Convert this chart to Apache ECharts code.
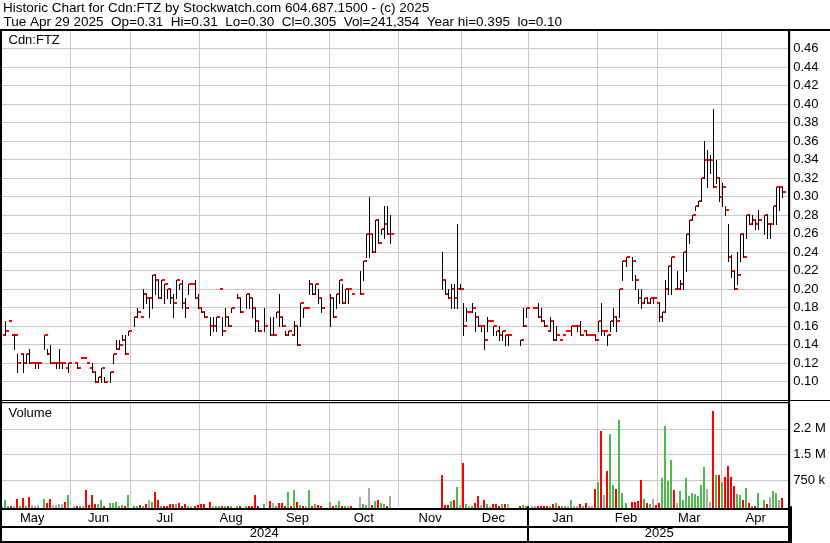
<!DOCTYPE html>
<html><head><meta charset="utf-8">
<script src="https://cdn.jsdelivr.net/npm/echarts@6/dist/echarts.min.js"></script>
<style>html,body{margin:0;padding:0;background:#fff}#c{width:830px;height:543px}</style>
</head><body><div id="c"></div>
<script>
// ---- DATA (one slot per weekday, 2024-05-01 .. 2025-04-29; null = no trade) ----
const high = [
 .15,.165,.165,.15,.15,.13,.13,.13,.13,.135,.12,.12,.12,null,.15,.135,.14,.12,.12,.135,.12,.115,.12, // May
 null,.12,.12,.125,.125,.12,.115,.12,.11,.105,.115,.105,null,.11,.13,.145,.145,.15,.15,.155, // Jun
 null,.17,.18,.17,.20,.195,.19,.215,.215,.21,.21,.205,.20,.20,.195,.21,.205,.21,.19,.205,.205,.21,.195, // Jul
 .18,.175,null,.17,.17,.17,.20,.17,.18,.17,.18,null,.195,.19,null,.195,.195,.19,.18,.165,null,.18, // Aug
 null,.17,.17,.175,.195,.17,.155,.155,.15,.165,.16,.185,.18,.18,.21,.205,.205,.20,.19,null,null, // Sep
 .195,.19,.195,.21,.205,.20,.20,.195,null,null,.22,.23,.26,.30,.26,.275,.275,.265,.29,.29,.28,null,null, // Oct
 null,null,null,null,null,null,null,null,null,null,null,null,null,null,.24,.21,.20,.205,.205,.27,.205, // Nov
 .185,.18,.175,.185,.175,.17,.16,.16,.17,.165,.16,.155,.16,.155,.15,.15,null,null,null,.145,.18,.18, // Dec
 null,.18,.18,.185,.18,.165,.155,.17,.165,.16,.145,.15,.155,.155,.16,.16,.16,.165,.155,.155,.15,.15,.15, // Jan
 .165,.185,.155,.15,.165,.18,.17,.20,.23,.235,null,.235,.215,.20,.20,.19,.19,.19,.19,.185, // Feb
 .185,.175,.21,.225,.235,.20,.22,.21,.24,.26,.275,.28,.29,.295,.32,.36,.35,.345,.395,.34,.32, // Mar
 .315,.29,.27,.237,.22,.24,.26,.26,.28,.28,.28,.275,.285,null,.28,.28,.27,.29,.31,.31,.31 // Apr
];
const low = [
 .15,.15,.165,.15,.135,.11,.13,.11,.12,.12,.12,.115,.115,null,.135,.13,.12,.12,.115,.115,.115,.115,.11,
 null,.12,.115,.125,.125,.12,.115,.11,.10,.10,.10,.10,null,.10,.12,.135,.135,.145,.13,.15,
 null,.16,.17,.17,.18,.185,.17,.18,.195,.19,.19,.185,.19,.185,.17,.19,.20,.18,.17,.195,.205,.19,.18,
 .175,.17,null,.15,.155,.155,.20,.15,.16,.16,.175,null,.19,.175,null,.18,.18,.17,.155,.155,null,.155,
 null,.15,.15,.17,.16,.16,.15,.15,.15,.15,.14,.16,.17,.18,.195,.195,.195,.185,.175,null,null,
 .16,.17,.18,.185,.185,.185,.185,.195,null,null,.195,.21,.235,.235,.24,.24,.25,.26,.255,.26,.25,null,null,
 null,null,null,null,null,null,null,null,null,null,null,null,null,null,.20,.195,.19,.18,.18,.18,.20,
 .15,.165,.175,.175,.155,.16,.155,.135,.155,.165,.15,.15,.145,.145,.14,.14,null,null,null,.14,.16,.17,
 null,.18,.18,.17,.165,.16,.155,.155,.145,.145,.145,.15,.155,.155,.15,.16,.155,.15,.155,.15,.15,.15,.145,
 .155,.15,.15,.14,.155,.16,.155,.17,.21,.225,null,.21,.20,.185,.18,.185,.185,.185,.185,.185,
 .165,.165,.175,.195,.195,.20,.20,.20,.20,.22,.25,.275,.285,.29,.295,.32,.31,.325,.31,.315,.295,
 .29,.28,.23,.213,.20,.205,.23,.235,.255,.27,.27,.265,.265,null,.26,.255,.255,.27,.27,.285,.30
];
const close = [
 .15,.155,.165,.15,.15,.12,.13,.12,.13,.12,.12,.12,.12,null,.15,.13,.12,.12,.12,.12,.12,.115,.12,
 null,.12,.115,.125,.125,.12,.115,.11,.10,.105,.115,.10,null,.11,.13,.135,.14,.145,.13,.155,
 null,.17,.175,.17,.195,.19,.19,.215,.21,.19,.21,.205,.20,.19,.185,.21,.205,.185,.18,.205,.205,.19,.18,
 .175,.17,null,.16,.16,.17,.20,.155,.17,.16,.18,null,.19,.175,null,.195,.19,.18,.165,.155,null,.16,
 null,.15,.15,.175,.17,.16,.15,.155,.15,.16,.14,.185,.18,.18,.205,.195,.205,.19,.18,null,null,
 .19,.17,.195,.21,.185,.20,.20,.195,null,null,.195,.23,.26,.26,.24,.275,.25,.265,.27,.26,.26,null,null,
 null,null,null,null,null,null,null,null,null,null,null,null,null,null,.21,.195,.19,.20,.19,.20,.20,
 .16,.175,.175,.18,.17,.16,.16,.145,.165,.165,.16,.155,.15,.155,.15,.15,null,null,null,.145,.16,.18,
 null,.18,.18,.17,.165,.16,.155,.165,.145,.15,.145,.15,.155,.155,.16,.16,.16,.15,.155,.15,.15,.15,.145,
 .165,.155,.155,.15,.165,.17,.165,.20,.23,.235,null,.23,.21,.19,.185,.19,.185,.19,.19,.185,
 .17,.175,.20,.225,.235,.20,.20,.205,.24,.26,.275,.28,.29,.295,.32,.34,.34,.34,.31,.32,.30,
 .31,.285,.235,.22,.20,.215,.26,.235,.28,.27,.275,.27,.275,null,.28,.27,.27,.29,.31,.31,.305
];
// volume in thousands of shares
const volumeK = [
 10,183,0,0,0,221,0,250,0,279,38,10,38,null,212,106,212,38,38,67,67,115,327,
 null,20,20,10,20,471,30,327,67,67,183,5,null,96,96,125,5,38,5,327,
 null,10,10,38,20,67,183,125,413,183,10,5,5,67,67,67,96,5,67,5,5,5,38,
 67,67,null,125,5,5,5,10,10,5,5,null,5,5,null,10,5,5,327,5,null,67,
 null,154,96,5,96,96,5,413,10,471,125,38,10,0,471,10,67,38,10,null,null,
 125,5,38,154,5,10,5,5,null,null,269,67,48,529,38,154,183,96,67,10,298,null,null,
 null,null,null,null,null,null,null,null,null,null,null,null,null,null,904,38,38,154,183,558,38,
 1250,67,5,10,96,298,38,183,67,5,67,67,10,67,67,67,null,null,null,10,38,5,
 null,5,5,5,5,5,5,10,67,96,5,10,5,5,183,5,10,67,5,96,5,5,500,
 702,2200,327,1020,2090,615,500,2520,385,100,null,125,125,154,760,212,96,67,212,38,
 100,817,2320,731,1340,471,96,442,183,817,298,385,356,300,615,1130,500,125,2760,904,904,
 702,846,1160,846,587,356,327,183,519,96,10,19,385,null,183,67,269,442,385,183,241.354
];
const priceTicks = { min: 0.08, max: 0.48, step: 0.02 };
const volTickLabels = { 750: '750 k', 1500: '1.5 M', 2250: '2.2 M' };
const monthLabelIdx = [10, 32, 54, 76, 98, 120, 142, 163, 186, 207, 228, 250];
const yearLabelIdx = [87, 218];
const monthNames = ['Jan','Feb','Mar','Apr','May','Jun','Jul','Aug','Sep','Oct','Nov','Dec'];

// weekday calendar
const days = [];
for (let t = Date.UTC(2024, 4, 1); t <= Date.UTC(2025, 3, 29); t += 86400000) {
  const d = new Date(t), wd = d.getUTCDay();
  if (wd !== 0 && wd !== 6) days.push(d.toISOString().slice(0, 10));
}
const cats = days.concat(['', '']);
const monthStarts = new Set();
for (let i = 1; i < days.length; i++) if (days[i].slice(0, 7) !== days[i - 1].slice(0, 7)) monthStarts.add(i);
let yearStart = days.findIndex(d => d.startsWith('2025'));
const monthLabelSet = new Set(monthLabelIdx), yearLabelSet = new Set(yearLabelIdx);

const ohlc = [], vol = [];
let prev = null;
for (let i = 0; i < days.length; i++) {
  if (close[i] != null) ohlc.push([i, high[i], low[i], close[i]]);
  if (volumeK[i] != null) {
    let dir = 0;
    if (close[i] != null && prev != null) dir = close[i] > prev ? 1 : (close[i] < prev ? -1 : 0);
    vol.push([i, volumeK[i], dir]);
  }
  if (close[i] != null) prev = close[i];
}

const FONT = '"Liberation Sans", Arial, sans-serif';
const GRIDC = '#c8c8c8';
const COLORS = { '1': '#4cba4c', '-1': '#ff0000', '0': '#aaaaaa' };
const L = 0.6, W = 789.67;

function rect(x, y, w, h) {
  return { type: 'rect', shape: { x, y, width: w, height: h }, style: { fill: '#000' }, z: 100, silent: true };
}
function txt(x, y, s, size) {
  return { type: 'text', x, y, z: 100, silent: true,
    style: { text: s, fill: '#000', font: (size || 13) + 'px ' + FONT, align: 'left', verticalAlign: 'middle' } };
}

const chart = echarts.init(document.getElementById('c'), null, { renderer: 'canvas', width: 830, height: 543 });
chart.setOption({
  animation: false,
  backgroundColor: '#fff',
  grid: [
    { left: L, top: 30, width: W, height: 370 },
    { left: L, top: 403, width: W, height: 103.3 }
  ],
  xAxis: [
    { gridIndex: 0, type: 'category', data: cats, boundaryGap: true,
      axisLine: { show: false }, axisTick: { show: false }, axisLabel: { show: false },
      splitLine: { show: true, interval: i => monthStarts.has(i), lineStyle: { color: GRIDC, width: 1 } } },
    { gridIndex: 1, type: 'category', data: cats, boundaryGap: true, position: 'bottom',
      axisLine: { show: false },
      axisTick: { show: true, interval: i => i === 0 || i === yearStart, length: 37, lineStyle: { color: '#000', width: 2 } },
      axisLabel: { show: true, interval: i => monthLabelSet.has(i), margin: 6, color: '#000', fontFamily: FONT, fontSize: 13,
        formatter: v => v ? monthNames[+v.slice(5, 7) - 1] : '' },
      splitLine: { show: true, interval: i => monthStarts.has(i), lineStyle: { color: GRIDC, width: 1 } } },
    { gridIndex: 1, type: 'category', data: cats, boundaryGap: true, position: 'bottom', offset: 17,
      axisLine: { show: false }, axisTick: { show: false }, splitLine: { show: false },
      axisLabel: { show: true, interval: i => yearLabelSet.has(i), margin: 4, color: '#000', fontFamily: FONT, fontSize: 13,
        formatter: v => v ? v.slice(0, 4) : '' } }
  ],
  yAxis: [
    { gridIndex: 0, type: 'value', position: 'right', min: priceTicks.min, max: priceTicks.max, interval: priceTicks.step,
      axisLine: { show: false }, axisTick: { show: false },
      axisLabel: { margin: 3, color: '#000', fontFamily: FONT, fontSize: 13,
        formatter: v => (v < 0.09 || v > 0.47) ? '' : v.toFixed(2) },
      splitLine: { show: true, lineStyle: { color: GRIDC, width: 1 } } },
    { gridIndex: 1, type: 'value', position: 'right', min: 0, max: 3000, interval: 750,
      axisLine: { show: false }, axisTick: { show: false },
      axisLabel: { margin: 3, color: '#000', fontFamily: FONT, fontSize: 13, formatter: v => volTickLabels[v] || '' },
      splitLine: { show: true, lineStyle: { color: ['rgba(0,0,0,0)', GRIDC, GRIDC, GRIDC, GRIDC], width: 1 } } }
  ],
  series: [
    { type: 'custom', xAxisIndex: 0, yAxisIndex: 0, data: ohlc, encode: { x: 0, y: [1, 2, 3] },
      renderItem: (p, api) => {
        const j = api.value(0);
        const x = Math.floor(api.coord([j, api.value(3)])[0]);
        const yh = Math.round(api.coord([j, api.value(1)])[1]);
        const yl = Math.round(api.coord([j, api.value(2)])[1]);
        const yc = Math.round(api.coord([j, api.value(3)])[1]);
        const ch = [];
        if (yl > yh) ch.push({ type: 'rect', shape: { x: x, y: yh, width: 1, height: yl - yh + 1 }, style: { fill: '#000' } });
        ch.push({ type: 'rect', shape: { x: x + 1, y: yc - 1, width: 3, height: 2 }, style: { fill: '#ff0000' } });
        return { type: 'group', children: ch };
      } },
    { type: 'custom', xAxisIndex: 1, yAxisIndex: 1, data: vol, encode: { x: 0, y: 1 },
      renderItem: (p, api) => {
        const j = api.value(0);
        const c0 = api.coord([j, 0]);
        const x = Math.floor(c0[0]);
        const base = Math.round(c0[1] + 2.7);
        const top = Math.min(Math.round(api.coord([j, api.value(1)])[1]), base - 1);
        return { type: 'rect', shape: { x: x - 1, y: top, width: 2, height: base - top },
          style: { fill: COLORS[String(api.value(2))] } };
      } }
  ],
  graphic: [
    rect(0, 29, 830, 2), rect(0, 29, 2, 514), rect(788, 29, 2, 514),
    rect(0, 400, 830, 1), rect(0, 402, 788, 1),
    rect(0, 508, 788, 2), rect(0, 526, 788, 2), rect(0, 541, 788, 2),
    txt(3, 8.5, 'Historic Chart for Cdn:FTZ by Stockwatch.com 604.687.1500 - (c) 2025', 13.5),
    txt(3.5, 22.5, 'Tue Apr 29 2025  Op=0.31  Hi=0.31  Lo=0.30  Cl=0.305  Vol=241,354  Year hi=0.395  lo=0.10', 13.5),
    txt(8.5, 40.5, 'Cdn:FTZ'), txt(8.5, 413, 'Volume')
  ]
});
</script></body></html>
